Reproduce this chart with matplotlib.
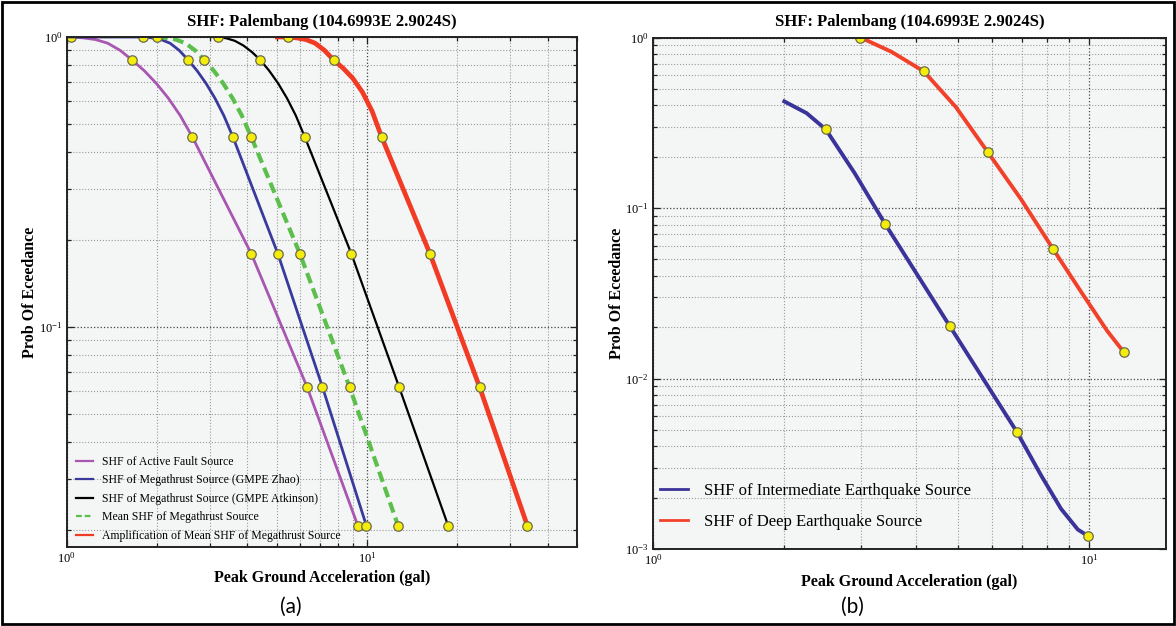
import matplotlib
matplotlib.use("Agg")
import matplotlib.pyplot as plt
from matplotlib.patches import Rectangle
from matplotlib.ticker import LogLocator, NullFormatter, LogFormatterSciNotation

plt.rcParams['font.family'] = ['Liberation Serif', 'DejaVu Serif']
plt.rcParams['mathtext.fontset'] = 'custom'
plt.rcParams['mathtext.rm'] = 'Liberation Serif'
plt.rcParams['mathtext.it'] = 'Liberation Serif:italic'
plt.rcParams['mathtext.bf'] = 'Liberation Serif:bold'

# ---------------- data: panel (a) ----------------
title_text = "SHF: Palembang (104.6993E 2.9024S)"
xlabel_text = "Peak Ground Acceleration (gal)"
ylabel_text = "Prob Of Eceedance"

fault_x = [1.0, 1.035, 1.137, 1.249, 1.371, 1.507, 1.654, 1.815, 1.990, 2.183, 2.393, 2.624, 4.12, 6.32, 9.33]
fault_y = [1.0, 1.0, 0.993, 0.98, 0.952, 0.90, 0.833, 0.765, 0.692, 0.615, 0.535, 0.452, 0.179, 0.0621, 0.0206]
fault_mk = [1, 6, 11, 12, 13, 14]

zhao_x = [1.0, 1.796, 1.925, 2.063, 2.211, 2.370, 2.54, 2.72, 2.913, 3.119, 3.341, 3.58, 5.05, 7.11, 9.96]
zhao_y = [1.0, 1.0, 0.993, 0.98, 0.952, 0.90, 0.833, 0.765, 0.692, 0.615, 0.535, 0.452, 0.179, 0.0621, 0.0206]
zhao_mk = [1, 6, 11, 12, 13, 14]

atk_x = [3.01, 3.19, 3.403, 3.633, 3.877, 4.138, 4.416, 4.727, 5.062, 5.418, 5.801, 6.21, 8.87, 12.79, 18.64]
atk_y = [1.0, 1.0, 0.99, 0.97, 0.935, 0.888, 0.833, 0.765, 0.692, 0.615, 0.535, 0.452, 0.179, 0.0621, 0.0206]
atk_mk = [1, 6, 11, 12, 13, 14]

mean_x = [2.0, 2.150, 2.313, 2.488, 2.676, 2.877, 3.092, 3.323, 3.569, 3.836, 4.12, 5.98, 8.75, 12.7]
mean_y = [1.0, 0.993, 0.98, 0.952, 0.90, 0.833, 0.765, 0.692, 0.615, 0.535, 0.452, 0.179, 0.0621, 0.0206]
mean_mk = [0, 5, 10, 11, 12, 13]

amp_x = [5.03, 5.44, 5.834, 6.262, 6.722, 7.215, 7.745, 8.337, 8.974, 9.661, 10.40, 11.19, 16.2, 23.7, 34.2]
amp_y = [1.0, 1.0, 0.993, 0.98, 0.952, 0.90, 0.833, 0.78, 0.72, 0.645, 0.555, 0.452, 0.179, 0.0621, 0.0206]
amp_mk = [1, 6, 11, 12, 13, 14]

labels_a = ["SHF of Active Fault Source",
            "SHF of Megathrust Source (GMPE Zhao)",
            "SHF of Megathrust Source (GMPE Atkinson)",
            "Mean SHF of Megathrust Source",
            "Amplification of Mean SHF of Megathrust Source"]

# ---------------- data: panel (b) ----------------
inter_x = [2.0, 2.25, 2.49, 2.90, 3.41, 4.79, 6.83, 7.76, 8.62, 9.42, 9.95]
inter_y = [0.422, 0.36, 0.289, 0.16, 0.0802, 0.0203, 0.00485, 0.0027, 0.00172, 0.0013, 0.00119]
inter_mk = [2, 4, 5, 6, 10]

deep_x = [2.99, 3.52, 4.18, 4.95, 5.86, 6.98, 8.27, 9.6, 11.0, 12.0]
deep_y = [1.0, 0.825, 0.632, 0.39, 0.212, 0.1125, 0.0573, 0.032, 0.019, 0.0143]
deep_mk = [0, 2, 4, 6, 9]

labels_b = ["SHF of Intermediate Earthquake Source",
            "SHF of Deep Earthquake Source"]

# ---------------- styling ----------------
W, H = 1176, 626
fig = plt.figure(figsize=(W / 100, H / 100), dpi=100)
fig.patch.set_facecolor('white')

AX_BG = '#f4f6f6'
MK = dict(marker='o', markersize=6.8, markerfacecolor='#f4ec0c',
          markeredgecolor='#6b6b4a', markeredgewidth=0.9)


def style_axes(ax):
    ax.set_xscale('log')
    ax.set_yscale('log')
    ax.set_facecolor(AX_BG)
    for s in ax.spines.values():
        s.set_linewidth(1.4)
        s.set_color('#222222')
    ax.xaxis.set_major_locator(LogLocator(base=10, numticks=10))
    ax.yaxis.set_major_locator(LogLocator(base=10, numticks=10))
    ax.xaxis.set_minor_locator(LogLocator(base=10, subs=range(2, 10), numticks=20))
    ax.yaxis.set_minor_locator(LogLocator(base=10, subs=range(2, 10), numticks=20))
    ax.xaxis.set_minor_formatter(NullFormatter())
    ax.yaxis.set_minor_formatter(NullFormatter())
    ax.xaxis.set_major_formatter(LogFormatterSciNotation())
    ax.yaxis.set_major_formatter(LogFormatterSciNotation())
    ax.tick_params(which='both', direction='in', top=True, right=True,
                   labelsize=9, width=0.9, color='#222222')
    ax.tick_params(which='major', length=5, pad=3)
    ax.tick_params(which='minor', length=3)
    ax.grid(True, which='major', linestyle=':', color='#444444', linewidth=0.9)
    ax.grid(True, which='minor', linestyle=':', color='#9a9a9a', linewidth=0.8)
    ax.set_axisbelow(True)
    ax.set_title(title_text, fontsize=12, fontweight='bold', pad=8)
    ax.set_xlabel(xlabel_text, fontsize=11.5, fontweight='bold', va='center')
    ax.set_ylabel(ylabel_text, fontsize=11.5, fontweight='bold', va='center')


# ----- panel (a) -----
ax1 = fig.add_axes([66.5 / W, 1 - 547 / H, (577 - 66.5) / W, (547 - 37) / H])
style_axes(ax1)
ax1.plot(fault_x, fault_y, color='#a856b0', lw=2.0, markevery=fault_mk, **MK, label=labels_a[0])
ax1.plot(zhao_x, zhao_y, color='#3a3a9c', lw=2.0, markevery=zhao_mk, **MK, label=labels_a[1])
ax1.plot(atk_x, atk_y, color='#000000', lw=1.6, markevery=atk_mk, **MK, label=labels_a[2])
ax1.plot(mean_x, mean_y, color='#5cbf4c', lw=3.0, dashes=(2.6, 1.3), markevery=mean_mk, **MK, label=labels_a[3])
ax1.plot(amp_x, amp_y, color='#f23b24', lw=3.4, markevery=amp_mk, **MK, label=labels_a[4])
ax1.set_xlim(1, 50)
ax1.set_ylim(0.01743, 1)
ax1.xaxis.set_label_coords(0.5, -0.061)
ax1.yaxis.set_label_coords(-0.0715, 0.5)
leg1 = ax1.legend(loc='lower left', bbox_to_anchor=(0.018, 0.010), frameon=False,
                  fontsize=8.5, handlelength=1.5, handletextpad=0.7, labelspacing=0.55,
                  borderpad=0, borderaxespad=0)
for h in leg1.get_lines():
    h.set_marker('')
    h.set_linewidth(1.6)

# ----- panel (b) -----
ax2 = fig.add_axes([653 / W, 1 - 549 / H, (1166 - 653) / W, (549 - 37.5) / H])
style_axes(ax2)
ax2.plot(inter_x, inter_y, color='#3a3399', lw=2.8, markevery=inter_mk, **MK, label=labels_b[0])
ax2.plot(deep_x, deep_y, color='#f2412a', lw=2.8, markevery=deep_mk, **MK, label=labels_b[1])
ax2.set_xlim(1, 15)
ax2.set_ylim(1e-3, 1)
ax2.xaxis.set_label_coords(0.5, -0.0645)
ax2.yaxis.set_label_coords(-0.070, 0.5)
leg2 = ax2.legend(loc='lower left', bbox_to_anchor=(0.0136, 0.038), frameon=False,
                  fontsize=12, handlelength=1.7, handletextpad=0.95, labelspacing=0.9,
                  borderpad=0, borderaxespad=0)
for h in leg2.get_lines():
    h.set_marker('')
    h.set_linewidth(2.0)

# panel letters
fig.text(291 / W, 1 - 607 / H, "(a)", ha='center', va='center', fontsize=15,
         family=['Lato', 'DejaVu Sans'])
fig.text(852 / W, 1 - 607 / H, "(b)", ha='center', va='center', fontsize=15,
         family=['Lato', 'DejaVu Sans'])

# outer frame
fig.patches.append(Rectangle((2 / W, 2 / H), 1 - 4 / W, 1 - 4 / H, transform=fig.transFigure,
                             fill=False, edgecolor='black', linewidth=2.0))

fig.savefig("out.png", dpi=100)
